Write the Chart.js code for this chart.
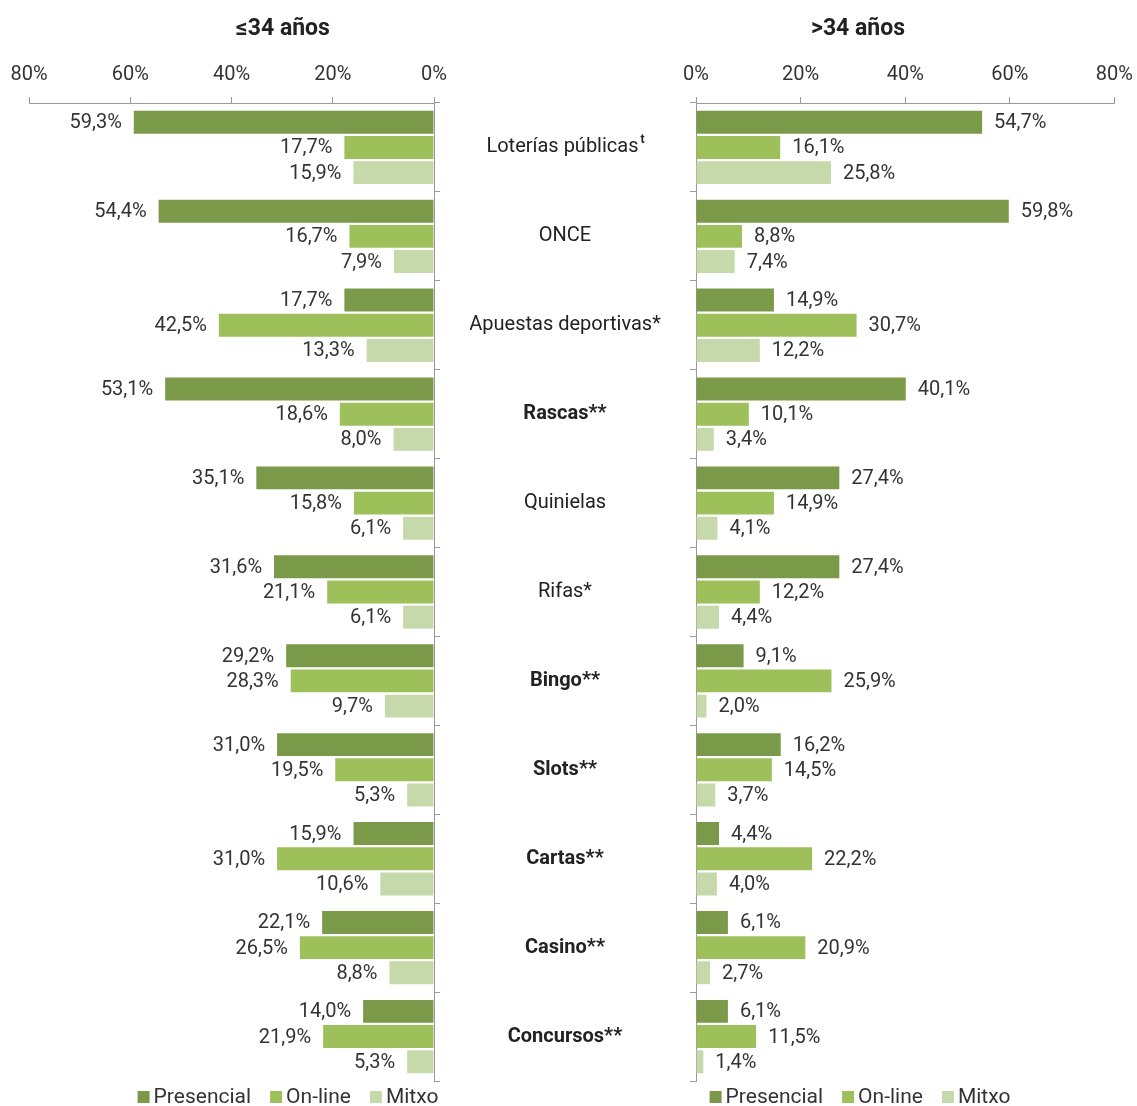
<!DOCTYPE html>
<html>
<head>
<meta charset="utf-8">
<script src="https://cdn.jsdelivr.net/npm/chart.js@4.4.1/dist/chart.umd.min.js"></script>
<style>
  html, body { margin: 0; padding: 0; background: #fff; overflow: hidden; }
  #wrap { position: relative; width: 1137px; height: 1106px; overflow: hidden; }
  .panel { position: absolute; top: 0; height: 1106px; }
  #youngBox { left: 0; width: 470px; }
  #olderBox { left: 470px; width: 673px; }
</style>
</head>
<body>
<div id="wrap">
  <div class="panel" id="youngBox"><canvas id="youngChart"></canvas></div>
  <div class="panel" id="olderBox"><canvas id="olderChart"></canvas></div>
</div>
<script>
const categories = ['Loterías públicas', 'ONCE', 'Apuestas deportivas*', 'Rascas**', 'Quinielas', 'Rifas*', 'Bingo**', 'Slots**', 'Cartas**', 'Casino**', 'Concursos**'];
const boldCategories = [false, false, false, true, false, false, true, true, true, true, true];
const categoryNotes = ['t', '', '', '', '', '', '', '', '', '', ''];
const seriesNames = ['Presencial', 'On-line', 'Mitxo'];
const seriesColors = ['#7b9a49', '#9dc05a', '#c6d9aa'];
const xTickValues = [0, 20, 40, 60, 80];

// ≤34 años
const youngPresencial = [59.3, 54.4, 17.7, 53.1, 35.1, 31.6, 29.2, 31.0, 15.9, 22.1, 14.0];
const youngOnline = [17.7, 16.7, 42.5, 18.6, 15.8, 21.1, 28.3, 19.5, 31.0, 26.5, 21.9];
const youngMitxo = [15.9, 7.9, 13.3, 8.0, 6.1, 6.1, 9.7, 5.3, 10.6, 8.8, 5.3];

// >34 años
const olderPresencial = [54.7, 59.8, 14.9, 40.1, 27.4, 27.4, 9.1, 16.2, 4.4, 6.1, 6.1];
const olderOnline = [16.1, 8.8, 30.7, 10.1, 14.9, 12.2, 25.9, 14.5, 22.2, 20.9, 11.5];
const olderMitxo = [25.8, 7.4, 12.2, 3.4, 4.1, 4.4, 2.0, 3.7, 4.0, 2.7, 1.4];

const FONT = 'Roboto';
const TEXT = '#333';
const AXIS = '#999';

const fmt = v => v.toFixed(1).replace('.', ',') + '%';

// value next to the end of every bar
const valueLabels = {
  id: 'valueLabels',
  afterDatasetsDraw(chart) {
    const ctx = chart.ctx;
    const reversed = chart.scales.x.options.reverse;
    ctx.save();
    ctx.font = `20px ${FONT}`;
    ctx.fillStyle = TEXT;
    ctx.textBaseline = 'middle';
    ctx.textAlign = reversed ? 'right' : 'left';
    chart.data.datasets.forEach((ds, di) => {
      chart.getDatasetMeta(di).data.forEach((bar, i) => {
        const x = reversed ? bar.x - 12 : bar.x + 12;
        ctx.fillText(fmt(ds.data[i]), x, bar.y + 1);
      });
    });
    ctx.restore();
  }
};

// panel heading and the legend row under each panel
const panelText = {
  id: 'panelText',
  afterDraw(chart, args, opts) {
    const ctx = chart.ctx;
    ctx.save();
    ctx.fillStyle = '#222';
    ctx.textAlign = 'center';
    ctx.textBaseline = 'middle';
    ctx.font = `bold 23px ${FONT}`;
    ctx.fillText(opts.title, opts.titleX, 29);

    ctx.font = `21px ${FONT}`;
    const items = chart.data.datasets.map(ds => ({ text: ds.label, color: ds.backgroundColor }));
    const box = 12, gap = 4, spacing = 19;
    const widths = items.map(it => box + gap + ctx.measureText(it.text).width);
    const total = widths.reduce((a, b) => a + b, 0) + spacing * (items.length - 1);
    let x = opts.legendX - total / 2;
    ctx.textAlign = 'left';
    ctx.textBaseline = 'alphabetic';
    items.forEach((it, i) => {
      ctx.fillStyle = it.color;
      ctx.fillRect(x, 1091, box, box);
      ctx.fillStyle = TEXT;
      ctx.fillText(it.text, x + box + gap, 1103);
      x += widths[i] + spacing;
    });
    ctx.restore();
  }
};

// game names in the gap between the two panels
const categoryNames = {
  id: 'categoryNames',
  afterDraw(chart, args, opts) {
    if (opts.x == null) return;
    const ctx = chart.ctx;
    const yScale = chart.scales.y;
    ctx.save();
    ctx.fillStyle = '#222';
    ctx.textBaseline = 'middle';
    ctx.textAlign = 'left';
    categories.forEach((name, i) => {
      const y = yScale.getPixelForValue(i);
      ctx.font = `${boldCategories[i] ? 'bold ' : ''}20px ${FONT}`;
      const w = ctx.measureText(name).width;
      let noteW = 0;
      if (categoryNotes[i]) {
        ctx.font = `bold 12px ${FONT}`;
        noteW = ctx.measureText(categoryNotes[i]).width + 1;
      }
      const start = opts.x - (w + noteW) / 2;
      ctx.font = `${boldCategories[i] ? 'bold ' : ''}20px ${FONT}`;
      ctx.fillText(name, start, y);
      if (categoryNotes[i]) {
        ctx.font = `bold 12px ${FONT}`;
        ctx.fillText(categoryNotes[i], start + w + 2, y - 7);
      }
    });
    ctx.restore();
  }
};

function makeChart(id, series, reversed, padding, panel, namesX) {
  return new Chart(document.getElementById(id), {
    type: 'bar',
    data: {
      labels: categories,
      datasets: series.map((values, i) => ({
        label: seriesNames[i],
        data: values,
        backgroundColor: seriesColors[i],
        borderWidth: 0,
        categoryPercentage: 0.85,
        barPercentage: 0.91
      }))
    },
    options: {
      indexAxis: 'y',
      responsive: true,
      maintainAspectRatio: false,
      animation: false,
      layout: { padding },
      scales: {
        x: {
          position: 'top',
          min: 0,
          max: 80,
          reverse: reversed,
          afterBuildTicks: scale => { scale.ticks = xTickValues.map(v => ({ value: v })); },
          ticks: {
            callback: v => v + '%',
            font: { family: FONT, size: 20 },
            color: TEXT,
            padding: 10,
            maxRotation: 0
          },
          grid: { drawOnChartArea: false, tickLength: 6, color: AXIS },
          border: { color: AXIS }
        },
        y: {
          position: reversed ? 'right' : 'left',
          ticks: { display: false },
          grid: { offset: true, drawOnChartArea: false, tickLength: 6, color: AXIS },
          border: { color: AXIS }
        }
      },
      plugins: {
        legend: { display: false },
        tooltip: { enabled: false },
        panelText: panel,
        categoryNames: { x: namesX }
      }
    },
    plugins: [valueLabels, panelText, categoryNames]
  });
}

makeChart('youngChart', [youngPresencial, youngOnline, youngMitxo], true,
  { left: 29, right: 30, top: 53, bottom: 25 },
  { title: '≤34 años', titleX: 283, legendX: 288 }, null);

makeChart('olderChart', [olderPresencial, olderOnline, olderMitxo], false,
  { left: 220, right: 17, top: 53, bottom: 25 },
  { title: '>34 años', titleX: 388, legendX: 390 }, 95);
</script>
</body>
</html>
